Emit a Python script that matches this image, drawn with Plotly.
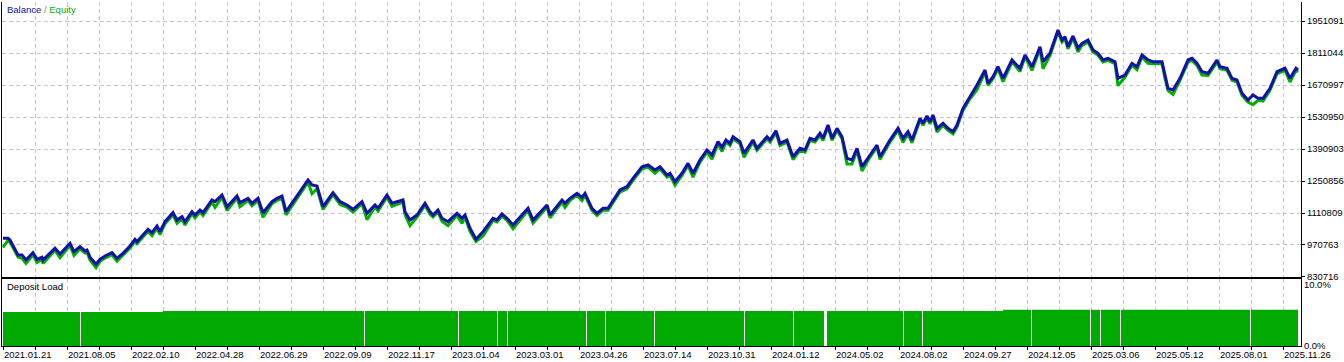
import plotly.graph_objects as go

# ---------------- data ----------------
trade_no = [0, 5, 7, 12, 15, 19, 23, 30, 34, 39, 40, 52, 57, 67, 71, 77, 82, 84, 87, 93,
            97, 102, 109, 114, 120, 127, 132, 134, 145, 149, 154, 157, 162, 170, 174, 179, 182, 189, 192, 197,
            200, 209, 212, 219, 224, 234, 237, 245, 249, 255, 260, 269, 274, 279, 283, 297, 305, 309, 314, 320,
            330, 337, 344, 350, 359, 364, 372, 375, 384, 389, 400, 402, 407, 414, 422, 427, 430, 435, 439, 445,
            454, 459, 462, 467, 473, 480, 490, 494, 499, 504, 510, 525, 530, 544, 547, 559, 562, 567, 574, 579,
            582, 589, 594, 600, 605, 617, 624, 630, 639, 645, 652, 657, 664, 667, 672, 679, 685, 690, 697, 704,
            709, 715, 719, 723, 727, 730, 737, 741, 750, 754, 764, 767, 773, 777, 784, 790, 797, 802, 807, 812,
            817, 820, 825, 829, 834, 839, 844, 849, 854, 859, 867, 874, 877, 887, 895, 900, 905, 909, 917, 920,
            924, 927, 930, 934, 940, 945, 950, 954, 960, 967, 974, 982, 985, 990, 995, 1000, 1005, 1009, 1012, 1017,
            1022, 1029, 1037, 1040, 1047, 1055, 1059, 1062, 1065, 1070, 1075, 1079, 1085, 1090, 1095, 1100, 1105, 1112, 1115, 1122,
            1129, 1134, 1139, 1145, 1150, 1159, 1162, 1165, 1170, 1177, 1185, 1189, 1194, 1199, 1205, 1214, 1217, 1224, 1229, 1234,
            1239, 1245, 1250, 1255, 1260, 1267, 1274, 1282, 1287, 1293, 1295]

balance = [1000100, 1000100, 992600, 951900, 927000, 927000, 905100, 937100, 908200, 916900, 905100, 956300, 931400, 978200, 941400, 963300, 944500, 948900, 916900, 886300,
           908200, 922600, 937100, 912600, 934400, 966400, 995700, 985200, 1039500, 1024600, 1053900, 1029000, 1072700, 1112100, 1080200, 1094600, 1072700, 1116500, 1102100, 1123900,
           1112100, 1167700, 1160300, 1189600, 1138400, 1185200, 1155900, 1175100, 1153300, 1175100, 1112100, 1160300, 1175100, 1185200, 1116500, 1204000, 1255200, 1233400, 1229000, 1138400,
           1199700, 1160300, 1145800, 1127000, 1160300, 1109500, 1145800, 1131400, 1189600, 1153300, 1167700, 1116500, 1080200, 1102100, 1153300, 1116500, 1102100, 1123900, 1087600, 1072700,
           1109500, 1087600, 1102100, 1043900, 995700, 1029000, 1087600, 1080200, 1106400, 1087600, 1058300, 1131400, 1080200, 1145800, 1102100, 1167700, 1153300, 1175100, 1197000, 1179500,
           1197000, 1131400, 1109500, 1131400, 1131400, 1211500, 1225900, 1262700, 1313400, 1320900, 1299000, 1313400, 1277100, 1284600, 1247800, 1284600, 1328300, 1284600, 1342800, 1386500,
           1364600, 1422900, 1398300, 1430300, 1415900, 1444700, 1422900, 1372100, 1430300, 1394000, 1444700, 1430300, 1471000, 1415900, 1430300, 1357200, 1394000, 1386500, 1437700, 1430300,
           1459600, 1437700, 1495900, 1437700, 1481500, 1444700, 1350200, 1342800, 1394000, 1313400, 1364600, 1408400, 1357200, 1430300, 1481500, 1437700, 1466600, 1430300, 1525300, 1503400,
           1535300, 1510400, 1539700, 1481500, 1503400, 1481500, 1466600, 1495900, 1569000, 1619800, 1671000, 1736700, 1678400, 1707300, 1751100, 1700300, 1744100, 1780400, 1766000, 1744100,
           1802300, 1751100, 1838600, 1773000, 1809700, 1911700, 1867900, 1882400, 1838600, 1885500, 1831600, 1853500, 1867900, 1824200, 1809700, 1780400, 1787900, 1773000, 1700300, 1714800,
           1766000, 1751100, 1802300, 1780400, 1773000, 1773000, 1714800, 1656600, 1649100, 1700300, 1780400, 1787900, 1766000, 1729200, 1722200, 1780400, 1751100, 1744100, 1700300, 1692900,
           1634700, 1605400, 1627200, 1612800, 1612800, 1656600, 1729200, 1744100, 1700300, 1744100, 1736700]

equity = [960000, 991000, 983600, 942900, 918000, 912000, 890000, 928100, 895000, 907900, 890000, 947300, 915000, 969200, 925000, 954300, 935500, 939900, 905000, 872000,
          899200, 913600, 928100, 900000, 925400, 957400, 986700, 976200, 1030500, 1012000, 1044900, 1016000, 1063700, 1103100, 1066000, 1085600, 1058000, 1107500, 1090000, 1114900,
          1100000, 1158700, 1135000, 1180600, 1122000, 1176200, 1138000, 1166100, 1142000, 1166100, 1092000, 1151300, 1166100, 1176200, 1102000, 1195000, 1246200, 1195000, 1218000, 1126000,
          1190700, 1148000, 1136800, 1115000, 1151300, 1082000, 1136800, 1119000, 1180600, 1140000, 1158700, 1104000, 1055000, 1093100, 1144300, 1105000, 1093100, 1114900, 1075000, 1055000,
          1100500, 1065000, 1093100, 1030000, 986000, 1010000, 1078600, 1071200, 1097400, 1078600, 1042000, 1122400, 1066000, 1136800, 1090000, 1158700, 1135000, 1166100, 1188000, 1165000,
          1188000, 1122400, 1100500, 1122400, 1122400, 1202500, 1216900, 1253700, 1304400, 1311900, 1285000, 1304400, 1268100, 1275600, 1233000, 1275600, 1319300, 1268000, 1333800, 1377500,
          1346000, 1413900, 1380000, 1421300, 1406900, 1435700, 1413900, 1355000, 1421300, 1385000, 1435700, 1421300, 1462000, 1406900, 1421300, 1345000, 1385000, 1377500, 1428700, 1421300,
          1450600, 1428700, 1486900, 1428700, 1472500, 1435700, 1325000, 1325000, 1385000, 1295000, 1355600, 1399400, 1345000, 1421300, 1472500, 1420000, 1457600, 1418000, 1516300, 1494400,
          1526300, 1501400, 1530700, 1465000, 1494400, 1472500, 1457600, 1486900, 1560000, 1610800, 1650000, 1727700, 1669400, 1698300, 1742100, 1685000, 1735100, 1771400, 1757000, 1730000,
          1793300, 1735000, 1829600, 1742000, 1800700, 1902700, 1858900, 1873400, 1829600, 1876500, 1815000, 1844500, 1858900, 1815200, 1800700, 1771400, 1778900, 1764000, 1668000, 1705800,
          1757000, 1738000, 1793300, 1766000, 1764000, 1764000, 1700000, 1647600, 1630000, 1691300, 1771400, 1778900, 1757000, 1715000, 1713200, 1771400, 1742100, 1735100, 1691300, 1683900,
          1625700, 1596400, 1585000, 1603800, 1600000, 1647600, 1720200, 1735100, 1684000, 1735100, 1727700]

# deposit load (%): value holds from each trade number until the next one
load_trade = [0, 77, 78, 160, 361, 362, 455, 456, 494, 495, 504, 505, 583, 584, 602, 603, 651, 652,
              741, 742, 790, 791, 821, 824, 900, 901, 919, 920, 1000, 1028, 1029, 1087, 1088, 1097, 1098,
              1117, 1118, 1247, 1248, 1295]
load_pct = [5.6, 0, 5.6, 5.75, 0, 5.75, 0, 5.75, 0, 5.75, 0, 5.75, 0, 5.75, 0, 5.75, 0, 5.75,
            0, 5.75, 0, 5.75, 0, 5.75, 0, 5.75, 0, 5.75, 5.95, 0, 5.95, 0, 5.95, 0, 5.95,
            0, 5.95, 0, 5.95, 5.95]

y_ticks = [830716, 970763, 1110809, 1250856, 1390903, 1530950, 1670997, 1811044, 1951091]
date_labels = ["2021.01.21", "2021.08.05", "2022.02.10", "2022.04.28", "2022.06.29", "2022.09.09",
               "2022.11.17", "2023.01.04", "2023.03.01", "2023.04.26", "2023.07.14", "2023.10.31",
               "2024.01.12", "2024.05.02", "2024.08.02", "2024.09.27", "2024.12.05", "2025.03.06",
               "2025.05.12", "2025.08.01", "2025.11.26"]

# ---------------- figure ----------------
FONT = "Liberation Sans"
FS = 9.5
GRID = "#c6c6c6"
DASH = "4px,3px"
BAL_C = "#1010aa"
EQ_C = "#00b000"
LOAD_C = "#00aa00"

x_tick_pos = list(range(0, 1281, 32))
x_tick_txt = [date_labels[i // 2] if i % 2 == 0 else "" for i in range(len(x_tick_pos))]

fig = go.Figure()
fig.add_trace(go.Scatter(x=trade_no, y=equity, mode="lines", line=dict(color=EQ_C, width=3),
                         xaxis="x", yaxis="y", showlegend=False, hoverinfo="skip"))
fig.add_trace(go.Scatter(x=trade_no, y=balance, mode="lines", line=dict(color=BAL_C, width=3),
                         xaxis="x", yaxis="y", showlegend=False, hoverinfo="skip"))
fig.add_trace(go.Scatter(x=load_trade, y=load_pct, mode="lines", line=dict(color=LOAD_C, width=0, shape="hv"),
                         fill="tozeroy", fillcolor=LOAD_C, xaxis="x2", yaxis="y2",
                         showlegend=False, hoverinfo="skip"))

y_top = 830716 + 275 * (140047 / 32)

fig.update_layout(
    width=1344, height=362, autosize=False,
    margin=dict(l=2, r=43, t=2, b=16, autoexpand=False),
    paper_bgcolor="white", plot_bgcolor="white",
    font=dict(family=FONT, size=FS, color="black"),
    xaxis=dict(domain=[0, 1], anchor="y", range=[-1, 1298], tickmode="linear", tick0=0, dtick=32,
               showticklabels=False, ticks="", showgrid=True, gridcolor=GRID, gridwidth=1, griddash=DASH,
               zeroline=False, showline=True, linecolor="black", linewidth=1, mirror=False,
               automargin=False),
    yaxis=dict(domain=[0.2006, 1], anchor="x", side="right", range=[830716, y_top],
               tickmode="array", tickvals=y_ticks, ticktext=[str(v) for v in y_ticks],
               ticks="outside", ticklen=3, tickcolor="black",
               showgrid=True, gridcolor=GRID, gridwidth=1, griddash=DASH, zeroline=False,
               showline=True, linecolor="black", linewidth=1, mirror=True, automargin=False),
    xaxis2=dict(domain=[0, 1], anchor="y2", range=[-1, 1298], tickmode="array",
                tickvals=x_tick_pos, ticktext=x_tick_txt, ticklabelposition="outside right",
                ticks="outside", ticklen=3, tickcolor="black",
                showgrid=True, gridcolor=GRID, gridwidth=1, griddash=DASH, zeroline=False,
                showline=True, linecolor="black", linewidth=1, mirror=True, automargin=False),
    yaxis2=dict(domain=[0, 0.1948], anchor="x2", side="right", range=[0, 11],
                tickmode="array", tickvals=[0, 10], ticktext=["0.0%", "10.0%"], ticks="",
                showgrid=False, zeroline=False,
                showline=True, linecolor="black", linewidth=1, mirror=True, automargin=False),
    annotations=[
        dict(xref="paper", yref="paper", x=0, y=1, xanchor="left", yanchor="top", xshift=3,
             showarrow=False, font=dict(family=FONT, size=FS),
             text=f'<span style="color:{BAL_C}">Balance</span><span style="color:#8a8a30"> / </span>'
                  f'<span style="color:{EQ_C}">Equity</span>'),
        dict(xref="paper", yref="paper", x=0, y=0.1948, xanchor="left", yanchor="top", xshift=3,
             showarrow=False, font=dict(family=FONT, size=FS, color="black"), text="Deposit Load"),
    ],
)

fig.write_html("out.html", config={"displayModeBar": False, "staticPlot": True},
               post_script="document.body.style.margin='0px';document.body.style.padding='0px';"
                           "document.documentElement.style.margin='0px';")
